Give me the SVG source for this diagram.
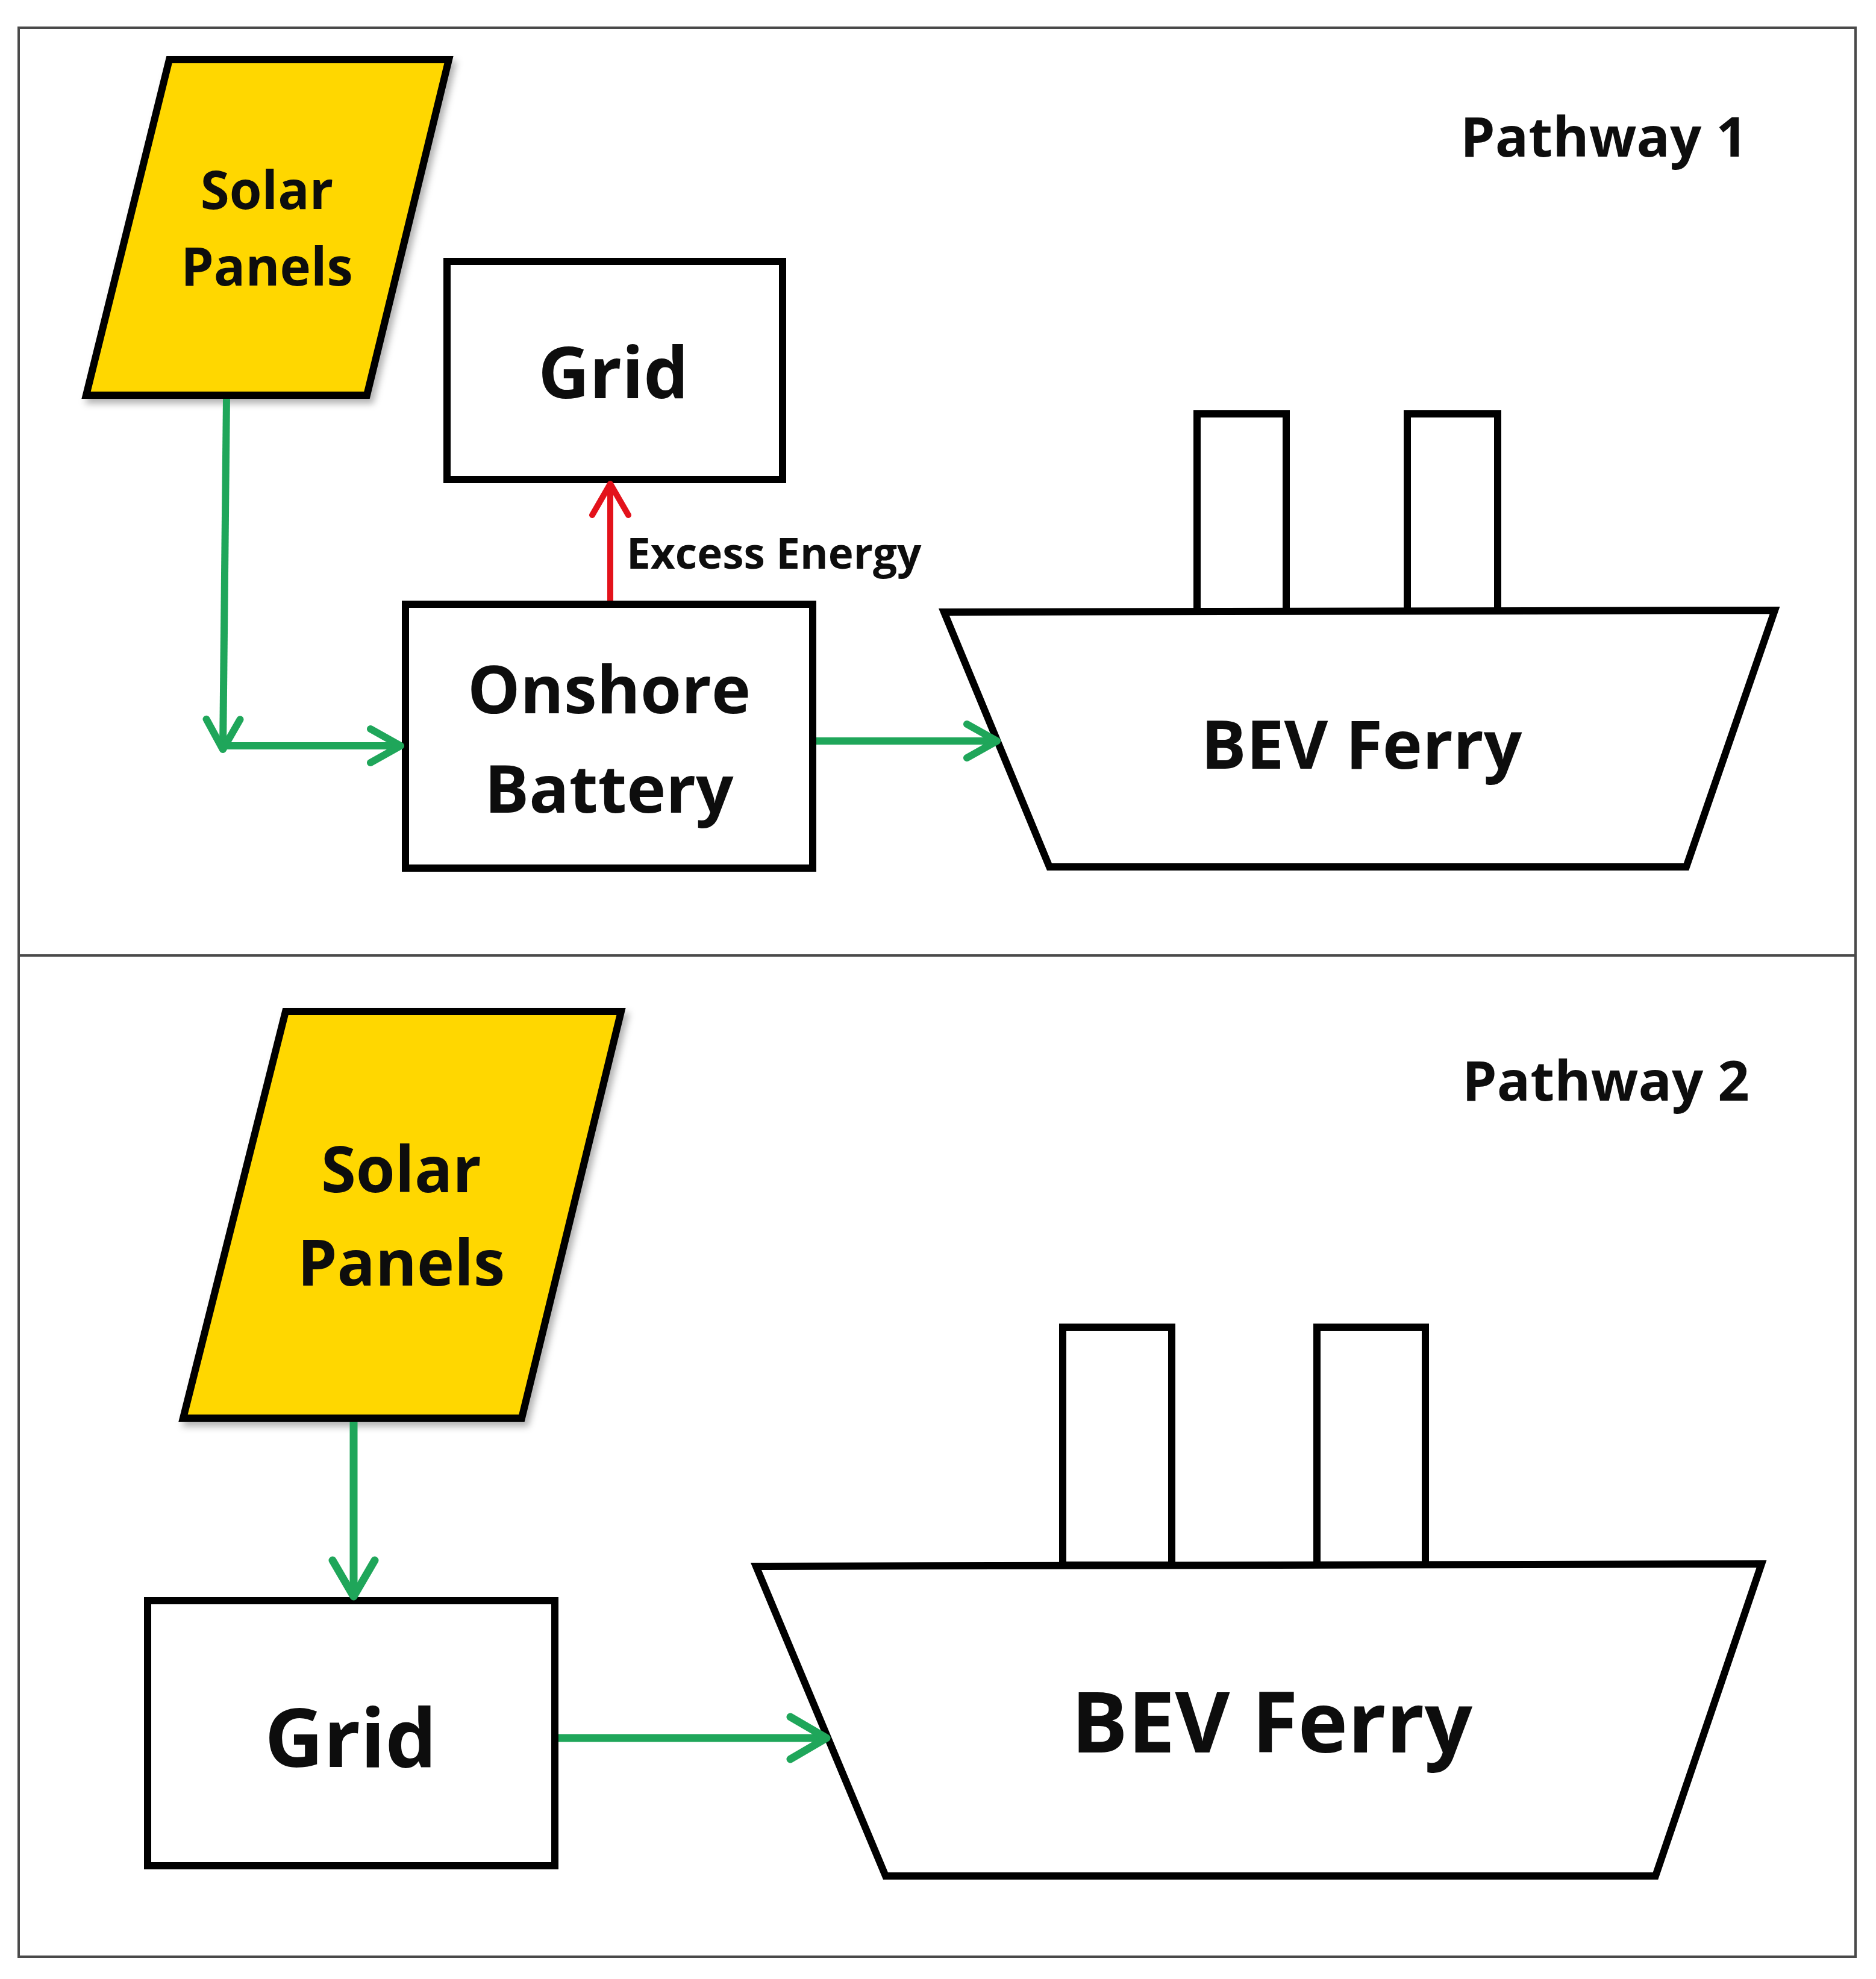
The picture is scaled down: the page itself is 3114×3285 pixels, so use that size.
<svg xmlns="http://www.w3.org/2000/svg" width="3114" height="3285" viewBox="0 0 3114 3285">
  <style>
    .frame { fill: none; stroke: #4a4a4a; stroke-width: 4; }
    .shape { fill: #ffffff; stroke: #000000; stroke-width: 12; stroke-linejoin: miter; }
    .shape2 { fill: #ffffff; stroke: #000000; stroke-width: 12; stroke-linejoin: miter; }
    .solar { fill: #FFD700; stroke: #000000; stroke-width: 12; stroke-linejoin: miter; filter: url(#shadow); }
    .lbl { font-family: "Open Sans", "Liberation Sans", sans-serif; font-weight: bold; fill: #0d0d0d; text-anchor: middle; }
    .lbl-start { font-family: "Open Sans", "Liberation Sans", sans-serif; font-weight: bold; fill: #0d0d0d; text-anchor: start; }
    .green { fill: none; stroke: #1FA65A; stroke-width: 12; }
    .green2 { fill: none; stroke: #1FA65A; stroke-width: 13; }
    .red { fill: none; stroke: #E3121B; stroke-width: 10; }
  </style>
  <defs>
    <filter id="shadow" x="-10%" y="-10%" width="130%" height="130%">
      <feDropShadow dx="6" dy="8" stdDeviation="6" flood-color="#000000" flood-opacity="0.3"/>
    </filter>
    <marker id="arrGreen" viewBox="0 0 66 76" refX="58" refY="38" markerWidth="66" markerHeight="76" markerUnits="userSpaceOnUse" orient="auto">
      <path d="M8,10 L58,38 L8,66" fill="none" stroke="#1FA65A" stroke-width="12" stroke-linecap="round" stroke-linejoin="round"/>
    </marker>
    <marker id="arrGreen2" viewBox="0 0 76 90" refX="68" refY="45" markerWidth="76" markerHeight="90" markerUnits="userSpaceOnUse" orient="auto">
      <path d="M8,10 L68,45 L8,80" fill="none" stroke="#1FA65A" stroke-width="13" stroke-linecap="round" stroke-linejoin="round"/>
    </marker>
    <marker id="arrRed" viewBox="0 0 66 76" refX="58" refY="38" markerWidth="66" markerHeight="76" markerUnits="userSpaceOnUse" orient="auto">
      <path d="M6,8 L58,38 L6,68" fill="none" stroke="#E3121B" stroke-width="10" stroke-linecap="round" stroke-linejoin="round"/>
    </marker>
  </defs>

  <rect x="0" y="0" width="3114" height="3285" fill="#ffffff"/>

  <g id="frame">
    <rect class="frame" x="31" y="46" width="3049" height="3202"/>
    <line class="frame" x1="31" y1="1586" x2="3080" y2="1586"/>
  </g>

  <!-- Pathway 1 -->
  <g id="p1-title">
    <text class="lbl-start" x="2424" y="260" font-size="92">Pathway 1</text>
  </g>
  <g id="p1-solar">
    <polygon class="solar" points="281,99 745,99 609,656 143,656"/>
    <text class="lbl" x="443" y="347" font-size="87">Solar</text>
    <text class="lbl" x="443" y="474" font-size="87">Panels</text>
  </g>
  <g id="p1-grid">
    <rect class="shape" x="742" y="434" width="557" height="362"/>
    <text class="lbl" x="1018" y="661" font-size="118">Grid</text>
  </g>
  <g id="p1-battery">
    <rect class="shape" x="673" y="1003" width="676" height="438"/>
    <text class="lbl" x="1011" y="1184" font-size="110">Onshore</text>
    <text class="lbl" x="1011" y="1349" font-size="110">Battery</text>
  </g>
  <g id="p1-ferry">
    <rect class="shape" x="1987" y="687" width="148" height="328"/>
    <rect class="shape" x="2336" y="687" width="150" height="328"/>
    <polygon class="shape" points="1567,1016 2946,1013 2799,1439 1742,1439"/>
    <text class="lbl" x="2260" y="1276" font-size="112">BEV Ferry</text>
  </g>

  <!-- Pathway 2 -->
  <g id="p2-title">
    <text class="lbl-start" x="2427" y="1827" font-size="92">Pathway 2</text>
  </g>
  <g id="p2-solar">
    <polygon class="solar" points="474,1679 1031,1679 866,2354 304,2354"/>
    <text class="lbl" x="666" y="1979" font-size="105">Solar</text>
    <text class="lbl" x="666" y="2134" font-size="105">Panels</text>
  </g>
  <g id="p2-grid">
    <rect class="shape2" x="245" y="2657" width="676" height="440"/>
    <text class="lbl" x="582" y="2933" font-size="135">Grid</text>
  </g>
  <g id="p2-ferry">
    <rect class="shape2" x="1764" y="2203" width="181" height="395"/>
    <rect class="shape2" x="2186" y="2203" width="180" height="395"/>
    <polygon class="shape2" points="1255,2600 2924,2596 2748,3114 1470,3114"/>
    <text class="lbl" x="2111" y="2909" font-size="140">BEV Ferry</text>
  </g>

  <!-- Connectors -->
  <g id="connectors">
    <path class="green" d="M376,662 L370,1244" marker-end="url(#arrGreen)"/>
    <path class="green" d="M370,1238 L665,1238" marker-end="url(#arrGreen)"/>
    <path class="green" d="M1355,1230 L1655,1230" marker-end="url(#arrGreen)"/>
    <path class="red" d="M1013,997 L1013,803" marker-end="url(#arrRed)"/>
    <text class="lbl-start" x="1040" y="944" font-size="71">Excess Energy</text>
    <path class="green2" d="M587,2360 L587,2650" marker-end="url(#arrGreen2)"/>
    <path class="green2" d="M927,2885 L1372,2885" marker-end="url(#arrGreen2)"/>
  </g>
</svg>
